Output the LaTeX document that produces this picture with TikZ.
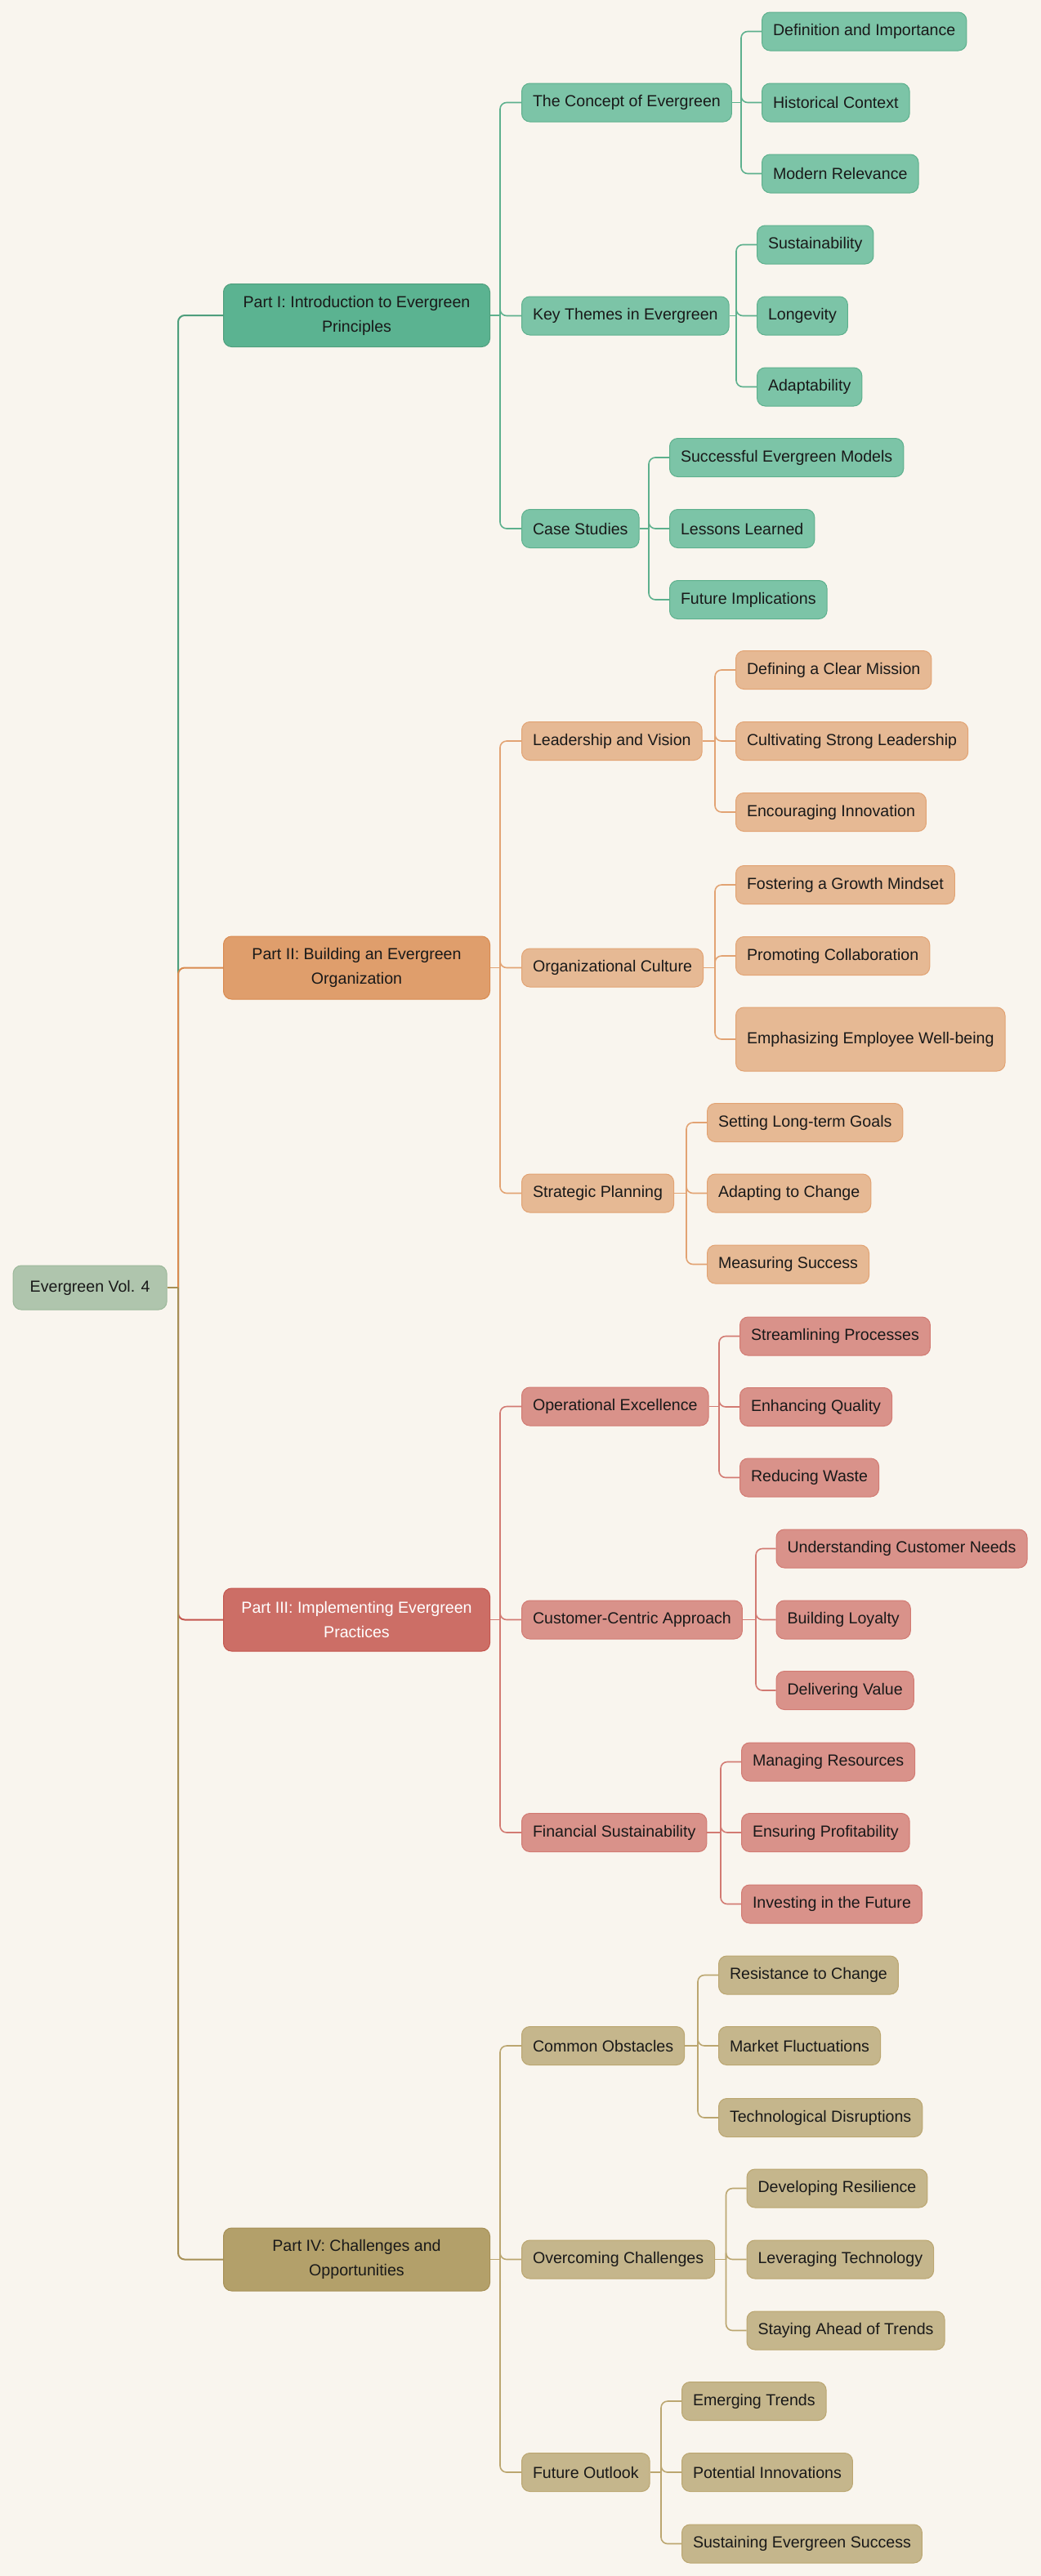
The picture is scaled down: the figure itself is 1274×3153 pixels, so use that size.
\documentclass[tikz,border=0pt]{standalone}
\usepackage{fontspec}
\setmainfont{Liberation Sans}
\definecolor{bgcol}{HTML}{F9F5EE}
\definecolor{rootfill}{HTML}{AFC5AD}
\definecolor{rootline}{HTML}{9CB89A}
\definecolor{grnA}{HTML}{5BB391}
\definecolor{grnB}{HTML}{4E9E7C}
\definecolor{grnC}{HTML}{7CC4A7}
\definecolor{grnD}{HTML}{5DB08D}
\definecolor{orgA}{HTML}{DF9E6C}
\definecolor{orgB}{HTML}{D98A4F}
\definecolor{orgC}{HTML}{E6B994}
\definecolor{orgD}{HTML}{E2A373}
\definecolor{redA}{HTML}{CC6E66}
\definecolor{redB}{HTML}{C4554D}
\definecolor{redC}{HTML}{D9928A}
\definecolor{redD}{HTML}{D27A72}
\definecolor{tanA}{HTML}{B3A06A}
\definecolor{tanB}{HTML}{A68F55}
\definecolor{tanC}{HTML}{C5B68C}
\definecolor{tanD}{HTML}{BBA670}
\begin{document}
\begin{tikzpicture}[x=0.5pt,y=0.5pt,yscale=-1,xscale=1,
    box/.style={rounded corners=5pt, line width=0.5pt, inner xsep=6.75pt, inner ysep=0pt,
        minimum height=23.5pt, anchor=west, text=black!90, font=\fontsize{9.8}{15}\selectfont},
    rootbox/.style={box, fill=rootfill, draw=rootline, minimum width=94pt, minimum height=27pt},
    partbox/.style={box, minimum width=163pt, minimum height=38.5pt, align=center},
    tall/.style={minimum height=39pt},
    gpart/.style={partbox, fill=grnA, draw=grnB},
    gbox/.style={box, fill=grnC, draw=grnD},
    opart/.style={partbox, fill=orgA, draw=orgB},
    obox/.style={box, fill=orgC, draw=orgD},
    rpart/.style={partbox, fill=redA, draw=redB, text=white},
    rbox/.style={box, fill=redC, draw=redD},
    tpart/.style={partbox, fill=tanA, draw=tanB},
    tbox/.style={box, fill=tanC, draw=tanD},
    trunk/.style={line width=1pt, rounded corners=4pt},
    link/.style={line width=0.8pt, rounded corners=4pt},
  ]
    \path[use as bounding box, fill=bgcol] (0,0) rectangle (1274,3153);

    % Text Node
    \node[rootbox] (root) at (15.6,1576) {Evergreen Vol. 4};

    % Text Node
    \node[gpart] (p1) at (273,386) {Part I: Introduction to Evergreen\\Principles};
    \node[gbox] (c1) at (638,125.5) {The Concept of Evergreen};
    \node[gbox] (l1a) at (932,38.5) {Definition and Importance};
    \node[gbox] (l1b) at (932,125.5) {Historical Context};
    \node[gbox] (l1c) at (932,212.5) {Modern Relevance};
    \node[gbox] (c2) at (638,386.5) {Key Themes in Evergreen};
    \node[gbox] (l2a) at (926,299.5) {Sustainability};
    \node[gbox] (l2b) at (926,386.5) {Longevity};
    \node[gbox] (l2c) at (926,473.5) {Adaptability};
    \node[gbox] (c3) at (638,647) {Case Studies};
    \node[gbox] (l3a) at (819,560) {Successful Evergreen Models};
    \node[gbox] (l3b) at (819,647) {Lessons Learned};
    \node[gbox] (l3c) at (819,734) {Future Implications};

    % Text Node
    \node[opart] (p2) at (273,1184.5) {Part II: Building an Evergreen\\Organization};
    \node[obox] (c4) at (638,907) {Leadership and Vision};
    \node[obox] (l4a) at (900,820) {Defining a Clear Mission};
    \node[obox] (l4b) at (900,907) {Cultivating Strong Leadership};
    \node[obox] (l4c) at (900,994) {Encouraging Innovation};
    \node[obox] (c5) at (638,1184.5) {Organizational Culture};
    \node[obox] (l5a) at (900,1083) {Fostering a Growth Mindset};
    \node[obox] (l5b) at (900,1170) {Promoting Collaboration};
    \node[obox,tall] (l5c) at (900,1272) {Emphasizing Employee Well-being};
    \node[obox] (c6) at (638,1460.5) {Strategic Planning};
    \node[obox] (l6a) at (865,1374) {Setting Long-term Goals};
    \node[obox] (l6b) at (865,1460.5) {Adapting to Change};
    \node[obox] (l6c) at (865,1547.5) {Measuring Success};

    % Text Node
    \node[rpart] (p3) at (273,1982.5) {Part III: Implementing Evergreen\\Practices};
    \node[rbox] (c7) at (638,1721.5) {Operational Excellence};
    \node[rbox] (l7a) at (905,1635.5) {Streamlining Processes};
    \node[rbox] (l7b) at (905,1722) {Enhancing Quality};
    \node[rbox] (l7c) at (905,1808.5) {Reducing Waste};
    \node[rbox] (c8) at (638,1982.5) {Customer-Centric Approach};
    \node[rbox] (l8a) at (949.5,1895.5) {Understanding Customer Needs};
    \node[rbox] (l8b) at (949.5,1982.5) {Building Loyalty};
    \node[rbox] (l8c) at (949.5,2069) {Delivering Value};
    \node[rbox] (c9) at (638,2243) {Financial Sustainability};
    \node[rbox] (l9a) at (907,2156.5) {Managing Resources};
    \node[rbox] (l9b) at (907,2243) {Ensuring Profitability};
    \node[rbox] (l9c) at (907,2330.5) {Investing in the Future};

    % Text Node
    \node[tpart] (p4) at (273,2765.5) {Part IV: Challenges and\\Opportunities};
    \node[tbox] (c10) at (638,2504) {Common Obstacles};
    \node[tbox] (l10a) at (879,2417.5) {Resistance to Change};
    \node[tbox] (l10b) at (879,2504) {Market Fluctuations};
    \node[tbox] (l10c) at (879,2592) {Technological Disruptions};
    \node[tbox] (c11) at (638,2765.5) {Overcoming Challenges};
    \node[tbox] (l11a) at (913.5,2678.5) {Developing Resilience};
    \node[tbox] (l11b) at (913.5,2765.5) {Leveraging Technology};
    \node[tbox] (l11c) at (913.5,2852.5) {Staying Ahead of Trends};
    \node[tbox] (c12) at (638,3026) {Future Outlook};
    \node[tbox] (l12a) at (834,2939) {Emerging Trends};
    \node[tbox] (l12b) at (834,3026) {Potential Innovations};
    \node[tbox] (l12c) at (834,3113.5) {Sustaining Evergreen Success};

    % Bus points
    \coordinate (t0) at (218,1576);
    \coordinate (q1) at (612,386);
    \coordinate (q2) at (612,1184.5);
    \coordinate (q3) at (612,1982.5);
    \coordinate (q4) at (612,2765.5);
    \coordinate (b1) at (907,125.5);
    \coordinate (b2) at (901,386.5);
    \coordinate (b3) at (794,647);
    \coordinate (b4) at (875,907);
    \coordinate (b5) at (875,1184.5);
    \coordinate (b6) at (840,1460.5);
    \coordinate (b7) at (880,1721.5);
    \coordinate (b8) at (925,1982.5);
    \coordinate (b9) at (882,2243);
    \coordinate (b10) at (854,2504);
    \coordinate (b11) at (888.5,2765.5);
    \coordinate (b12) at (809,3026);

    % Connection
    \draw[trunk,grnB] (t0) |- (p1.west);
    \draw[trunk,orgB] (t0) |- (p2.west);
    \draw[trunk,redB] (t0) |- (p3.west);
    \draw[trunk,tanB] (t0) |- (p4.west);
    \draw[trunk,tanB] (root.east) -- (t0);

    % Connection
    \draw[link,grnD] (p1.east) -- (q1);
    \draw[link,grnD] (q1) |- (c1.west);
    \draw[link,grnD] (q1) |- (c2.west);
    \draw[link,grnD] (q1) |- (c3.west);
    \draw[link,grnD] (c1.east) -- (b1);
    \draw[link,grnD] (b1) |- (l1a.west);
    \draw[link,grnD] (b1) |- (l1b.west);
    \draw[link,grnD] (b1) |- (l1c.west);
    \draw[link,grnD] (c2.east) -- (b2);
    \draw[link,grnD] (b2) |- (l2a.west);
    \draw[link,grnD] (b2) |- (l2b.west);
    \draw[link,grnD] (b2) |- (l2c.west);
    \draw[link,grnD] (c3.east) -- (b3);
    \draw[link,grnD] (b3) |- (l3a.west);
    \draw[link,grnD] (b3) |- (l3b.west);
    \draw[link,grnD] (b3) |- (l3c.west);

    % Connection
    \draw[link,orgD] (p2.east) -- (q2);
    \draw[link,orgD] (q2) |- (c4.west);
    \draw[link,orgD] (q2) |- (c5.west);
    \draw[link,orgD] (q2) |- (c6.west);
    \draw[link,orgD] (c4.east) -- (b4);
    \draw[link,orgD] (b4) |- (l4a.west);
    \draw[link,orgD] (b4) |- (l4b.west);
    \draw[link,orgD] (b4) |- (l4c.west);
    \draw[link,orgD] (c5.east) -- (b5);
    \draw[link,orgD] (b5) |- (l5a.west);
    \draw[link,orgD] (b5) |- (l5b.west);
    \draw[link,orgD] (b5) |- (l5c.west);
    \draw[link,orgD] (c6.east) -- (b6);
    \draw[link,orgD] (b6) |- (l6a.west);
    \draw[link,orgD] (b6) |- (l6b.west);
    \draw[link,orgD] (b6) |- (l6c.west);

    % Connection
    \draw[link,redD] (p3.east) -- (q3);
    \draw[link,redD] (q3) |- (c7.west);
    \draw[link,redD] (q3) |- (c8.west);
    \draw[link,redD] (q3) |- (c9.west);
    \draw[link,redD] (c7.east) -- (b7);
    \draw[link,redD] (b7) |- (l7a.west);
    \draw[link,redD] (b7) |- (l7b.west);
    \draw[link,redD] (b7) |- (l7c.west);
    \draw[link,redD] (c8.east) -- (b8);
    \draw[link,redD] (b8) |- (l8a.west);
    \draw[link,redD] (b8) |- (l8b.west);
    \draw[link,redD] (b8) |- (l8c.west);
    \draw[link,redD] (c9.east) -- (b9);
    \draw[link,redD] (b9) |- (l9a.west);
    \draw[link,redD] (b9) |- (l9b.west);
    \draw[link,redD] (b9) |- (l9c.west);

    % Connection
    \draw[link,tanD] (p4.east) -- (q4);
    \draw[link,tanD] (q4) |- (c10.west);
    \draw[link,tanD] (q4) |- (c11.west);
    \draw[link,tanD] (q4) |- (c12.west);
    \draw[link,tanD] (c10.east) -- (b10);
    \draw[link,tanD] (b10) |- (l10a.west);
    \draw[link,tanD] (b10) |- (l10b.west);
    \draw[link,tanD] (b10) |- (l10c.west);
    \draw[link,tanD] (c11.east) -- (b11);
    \draw[link,tanD] (b11) |- (l11a.west);
    \draw[link,tanD] (b11) |- (l11b.west);
    \draw[link,tanD] (b11) |- (l11c.west);
    \draw[link,tanD] (c12.east) -- (b12);
    \draw[link,tanD] (b12) |- (l12a.west);
    \draw[link,tanD] (b12) |- (l12b.west);
    \draw[link,tanD] (b12) |- (l12c.west);

\end{tikzpicture}
\end{document}
